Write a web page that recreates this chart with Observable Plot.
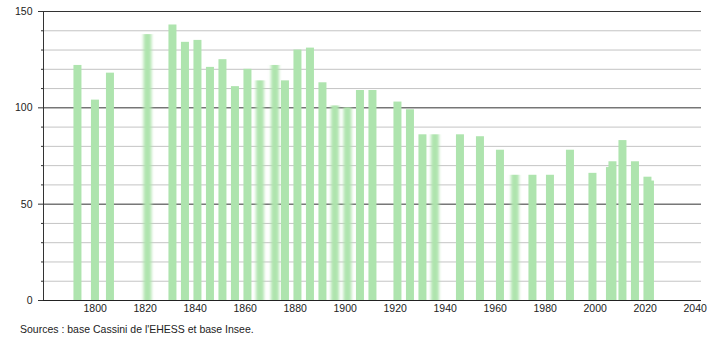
<!DOCTYPE html>
<html>
<head>
<meta charset="utf-8">
<script src="https://cdn.jsdelivr.net/npm/d3@7"></script>
<script src="https://cdn.jsdelivr.net/npm/@observablehq/plot@0.6"></script>
<style>
  html, body { margin: 0; padding: 0; background: #fff; }
  #chart svg { display: block; font-family: "Liberation Sans", Arial, sans-serif; }
  #caption { font-family: "Liberation Sans", Arial, sans-serif; font-size: 10.5px; color: #222; padding-left: 20px; margin-top: 5px; }
</style>
</head>
<body>
<div id="chart"></div>
<div id="caption">Sources : base Cassini de l'EHESS et base Insee.</div>
<script>
const years = [1793,1800,1806,1821,1831,1836,1841,1846,1851,1856,1861,1866,1872,1876,1881,1886,1891,1896,1901,1906,1911,1921,1926,1931,1936,1946,1954,1962,1968,1975,1982,1990,1999,2006,2007,2011,2016,2021,2022];
const populations = [122,104,118,138,143,134,135,121,125,111,120,114,122,114,130,131,113,101,100,109,109,103,99,86,86,86,85,78,65,65,65,78,66,69,72,83,72,64,62];
const blurredYears = [1821,1866,1872,1896,1901,1936,1968];
const xTicks = [1800,1820,1840,1860,1880,1900,1920,1940,1960,1980,2000,2020,2040];
const yMajorTicks = [0,50,100,150];
const yMinorTicks = [10,20,30,40,60,70,80,90,110,120,130,140];
const xDomain = [1779.32, 2042.52];
const yDomain = [0, 150];

const data = years.map((y, i) => ({year: y, pop: populations[i], blur: blurredYears.includes(y)}));
const sharp = data.filter(d => !d.blur);
const blurred = data.filter(d => d.blur);

const barColor = "#aee4ae";
const softColor = "#afe4ae";
const rectOpts = {
  x1: d => d.year - 1.5,
  x2: d => d.year + 1.7,
  y1: 0,
  y2: "pop",
  fill: barColor
};

const chart = Plot.plot({
  width: 710,
  height: 318,
  marginLeft: 43,
  marginRight: 9,
  marginTop: 11,
  marginBottom: 18,
  style: {fontSize: "10.5px", color: "#222", fontFamily: "'Liberation Sans', Arial, sans-serif"},
  x: {domain: xDomain},
  y: {domain: yDomain},
  marks: [
    Plot.ruleY(yMinorTicks, {stroke: "#c4c4c4", strokeWidth: 1}),
    Plot.ruleY(yMajorTicks.filter(v => v > 0), {stroke: "#333", strokeWidth: 1}),
    Plot.rect(sharp, rectOpts),
    Plot.rect(blurred, {...rectOpts, fill: softColor}),
    Plot.ruleY([0], {stroke: "#222", strokeWidth: 1.2}),
    Plot.ruleX([xDomain[0]], {stroke: "#333", strokeWidth: 1}),
    Plot.axisX(xTicks, {tickSize: 0, tickPadding: 4, tickFormat: d => String(d), label: null}),
    Plot.axisY(yMajorTicks, {tickSize: 5, tickPadding: 6, stroke: "#333", label: null}),
    Plot.axisY(yMinorTicks, {tickSize: 2, tickFormat: () => "", stroke: "#333", label: null})
  ]
});
document.getElementById("chart").appendChild(chart);

// soft-edged bars via an SVG blur filter
const svgEl = chart.tagName.toLowerCase() === "svg" ? chart : chart.querySelector("svg");
const svg = d3.select(svgEl);
const defs = svg.insert("defs", ":first-child");
defs.append("filter")
  .attr("id", "softbar")
  .attr("filterUnits", "userSpaceOnUse")
  .attr("x", 0).attr("y", 0).attr("width", 710).attr("height", 318)
  .append("feGaussianBlur")
  .attr("stdDeviation", "1.6 0.6");
svg.selectAll("rect").filter(function() {
  const own = (this.getAttribute("fill") || "").toLowerCase();
  const parent = (this.parentNode.getAttribute("fill") || "").toLowerCase();
  return own === softColor || parent === softColor;
}).attr("filter", "url(#softbar)");
</script>
</body>
</html>
